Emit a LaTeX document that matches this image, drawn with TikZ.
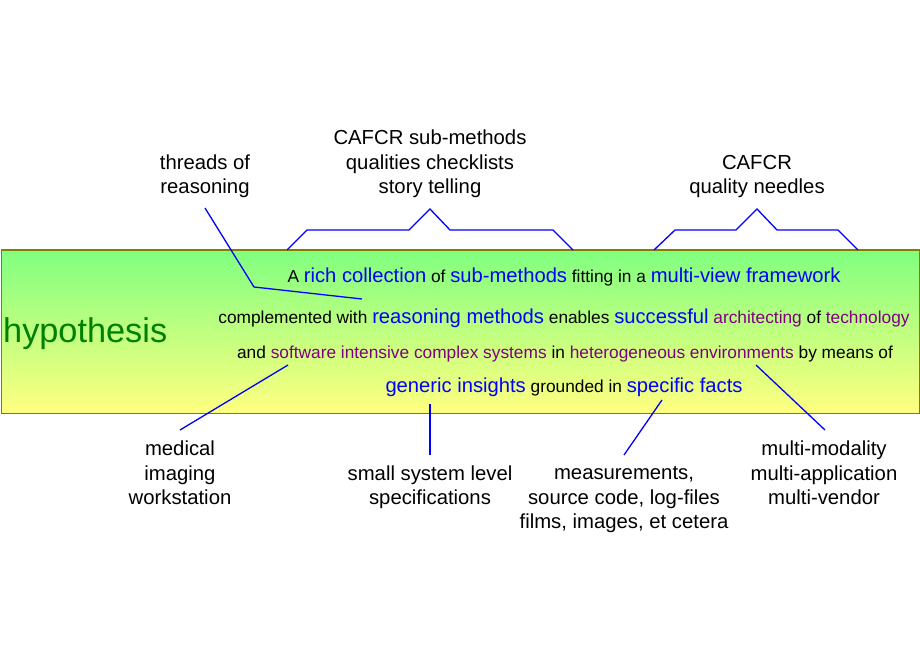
\documentclass[tikz,border=0pt]{standalone}
\usepackage{fontspec}
\setmainfont{Liberation Sans}
\definecolor{hblue}{RGB}{0,0,255}
\definecolor{hpurple}{RGB}{128,0,128}
\definecolor{hgreen}{RGB}{0,128,0}
\definecolor{hgreenbg}{RGB}{128,255,128}
\definecolor{hyellowbg}{RGB}{255,255,128}
\definecolor{holive}{RGB}{128,128,0}
\newcommand{\hB}[1]{{\color{hblue}\fontsize{20.2}{20.2}\selectfont #1}}
\newcommand{\hP}[1]{{\color{hpurple}#1}}
\begin{document}
\begin{tikzpicture}[x=1pt,y=-1pt,
  label/.style={align=center,inner sep=0pt,anchor=base,font=\fontsize{20.3}{24.5}\selectfont},
  boxline/.style={inner sep=0pt,anchor=base,font=\fontsize{17.3}{17.3}\selectfont},
  conn/.style={draw=hblue,line width=1.3pt,line join=miter}]
\useasboundingbox (0,0) rectangle (920,660);
% main box
\shade[top color=hgreenbg,bottom color=hyellowbg] (1,250) rectangle (919,413);
\draw[holive,line width=1pt] (1,250) rectangle (919,413);
\node[inner sep=0pt,anchor=base west,text=hgreen,font=\fontsize{34.3}{34.3}\selectfont] (hyp) at (3,342) {hypothesis};
% text lines
\node[boxline] (l1) at (564,282) {A \hB{rich collection} of \hB{sub-methods} fitting in a \hB{multi-view framework}};
\node[boxline] (l2) at (564,323) {complemented with \hB{reasoning methods} enables \hB{successful} \hP{architecting} of \hP{technology}};
\node[boxline] (l3) at (565,358) {and \hP{software intensive complex systems} in \hP{heterogeneous environments} by means of};
\node[boxline] (l4) at (564,392) {\hB{generic insights} grounded in \hB{specific facts}};
% braces
\draw[conn] (287,250) -- (307,230) -- (409,230) -- (430,209) -- (450,230) -- (553,230) -- (573,250);
\draw[conn] (654,250) -- (675,230) -- (736,230) -- (757,209) -- (777,230) -- (838,230) -- (858,250);
% labels (anchor = baseline of last line)
\node[label] (cafcr1) at (430,194) {CAFCR sub-methods\\qualities checklists\\story telling};
\node[label] (cafcr2) at (757,194) {CAFCR\\quality needles};
\node[label] (threads) at (205,194) {threads of\\reasoning};
\node[label] (medical) at (180,504.5) {medical\\imaging\\workstation};
\node[label] (small) at (430,504.5) {small system level\\specifications};
\node[label] (meas) at (624,528.5) {measurements,\\source code, log-files\\films, images, et cetera};
\node[label] (multi) at (824,504.5) {multi-modality\\multi-application\\multi-vendor};
% connector anchor points
\coordinate (thA) at (205,208);
\coordinate (thB) at (254,287);
\coordinate (thC) at (362,299);
\coordinate (medA) at (288,365);
\coordinate (medB) at (180,430);
\coordinate (smA) at (430,404);
\coordinate (smB) at (430,455);
\coordinate (meA) at (662,400);
\coordinate (meB) at (624,455);
\coordinate (muA) at (756,365);
\coordinate (muB) at (825,430);
\draw[conn] (thA) -- (thB) -- (thC);
\draw[conn] (medA) -- (medB);
\draw[conn] (smA) -- (smB);
\draw[conn] (meA) -- (meB);
\draw[conn] (muA) -- (muB);
\end{tikzpicture}
\end{document}
